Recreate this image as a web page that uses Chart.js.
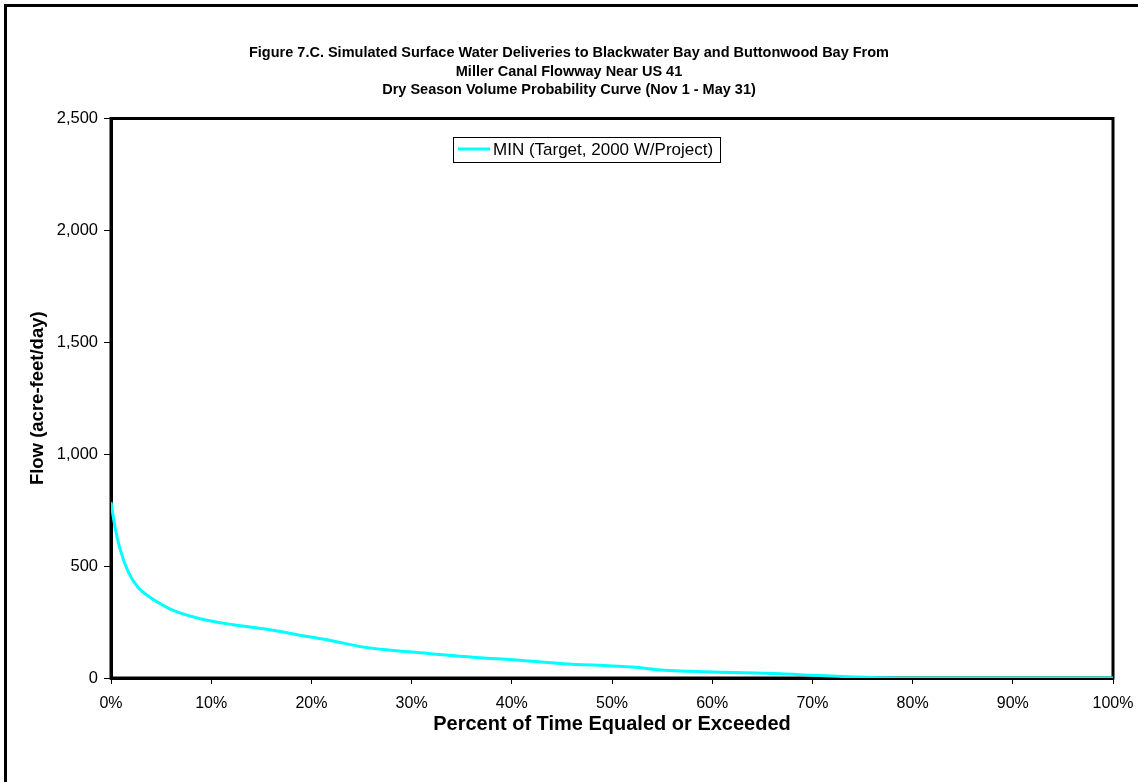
<!DOCTYPE html>
<html>
<head>
<meta charset="utf-8">
<script src="https://cdn.jsdelivr.net/npm/chart.js@4"></script>
<style>
  body { margin: 0; background: #fff; }
  canvas { display: block; }
</style>
</head>
<body>
<canvas id="grafica" width="1138" height="782"></canvas>
<script>
// valores
const porcentaje = [0, 0.4, 0.9, 1.73, 2.73, 3.89, 5.39, 6.2, 8.9, 12.2, 15.2, 16.6, 19.9, 21.9, 25.2, 27.9, 30, 36.8, 40.1, 45.1, 50, 52.1, 54.5, 60.1, 66.8, 70.1, 74.1, 77, 80, 90, 100];
const caudal = [785, 674, 577, 473, 403, 361, 320, 302, 265, 238, 220, 210, 183, 168, 138, 124, 116, 91, 82, 64, 54, 49, 37, 27, 19, 12, 5, 1, 0, 0, 0];
const nombreSerie = 'MIN (Target, 2000 W/Project)';
const titulo = [
    'Figure 7.C. Simulated Surface Water Deliveries to Blackwater Bay and Buttonwood Bay From',
    'Miller Canal Flowway Near US 41',
    'Dry Season Volume Probability Curve (Nov 1 - May 31)'
];
const tituloX = 'Percent of Time Equaled or Exceeded';
const tituloY = 'Flow (acre-feet/day)';

const fuente = "'Liberation Sans', Arial, sans-serif";

// marco exterior, marco del area y leyenda
const marcos = {
    id: 'marcos',
    beforeDatasetsDraw(chart) {
        const c = chart.ctx, a = chart.chartArea;
        c.save();
        c.strokeStyle = '#000';
        c.lineWidth = 3;
        c.strokeRect(a.left, a.top, a.right - a.left, a.bottom - a.top);
        c.restore();
    },
    afterDraw(chart) {
        const c = chart.ctx;
        c.save();
        c.strokeStyle = '#000';
        c.lineWidth = 3;
        c.strokeRect(5.5, 5.5, 1300, 1000);
        // leyenda
        c.lineWidth = 1;
        c.fillStyle = '#fff';
        c.fillRect(453, 137, 268, 25);
        c.strokeRect(453.5, 137.5, 267, 25);
        c.strokeStyle = '#00FFFF';
        c.lineWidth = 3;
        c.beginPath();
        c.moveTo(458, 149);
        c.lineTo(490, 149);
        c.stroke();
        c.fillStyle = '#000';
        c.font = '17px ' + fuente;
        c.textBaseline = 'middle';
        c.fillText(nombreSerie, 493, 150);
        c.restore();
    }
};

new Chart(document.getElementById('grafica'), {
    type: 'line',
    data: {
        datasets: [{
            label: nombreSerie,
            data: porcentaje.map((p, i) => ({ x: p, y: caudal[i] })),
            borderColor: '#00FFFF',
            borderWidth: 3,
            pointRadius: 0,
            fill: false,
            cubicInterpolationMode: 'monotone'
        }]
    },
    options: {
        responsive: false,
        animation: false,
        layout: { padding: { left: 25, right: 25, top: 0, bottom: 0 } },
        plugins: {
            legend: { display: false },
            tooltip: { enabled: false },
            title: {
                display: true,
                text: titulo,
                color: '#000',
                font: { family: fuente, size: 14.5, weight: 'bold', lineHeight: '18.5px' },
                padding: { top: 44, bottom: 19 }
            }
        },
        scales: {
            x: {
                type: 'linear',
                min: 0,
                max: 100,
                afterFit: s => { s.height = 104; s.paddingRight = 0; s.paddingLeft = 0; },
                ticks: {
                    stepSize: 10,
                    color: '#000',
                    font: { family: fuente, size: 16 },
                    padding: 10,
                    maxRotation: 0,
                    callback: v => v + '%'
                },
                grid: { drawOnChartArea: false, tickLength: 6, color: '#000', tickWidth: 1 },
                border: { color: '#000', width: 3 },
                title: {
                    display: true,
                    text: tituloX,
                    color: '#000',
                    font: { family: fuente, size: 20, weight: 'bold' },
                    padding: { top: 0, bottom: 46 }
                }
            },
            y: {
                min: 0,
                max: 2500,
                afterFit: s => { s.width = 86; },
                ticks: {
                    stepSize: 500,
                    color: '#000',
                    font: { family: fuente, size: 16.5 },
                    padding: 6,
                    callback: v => v.toLocaleString('en-US')
                },
                grid: { drawOnChartArea: false, tickLength: 7, color: '#000', tickWidth: 1 },
                border: { color: '#000', width: 3 },
                title: {
                    display: true,
                    text: tituloY,
                    color: '#000',
                    font: { family: fuente, size: 18.5, weight: 'bold' },
                    padding: { top: 2, bottom: 0 }
                }
            }
        }
    },
    plugins: [marcos]
});
</script>
</body>
</html>
